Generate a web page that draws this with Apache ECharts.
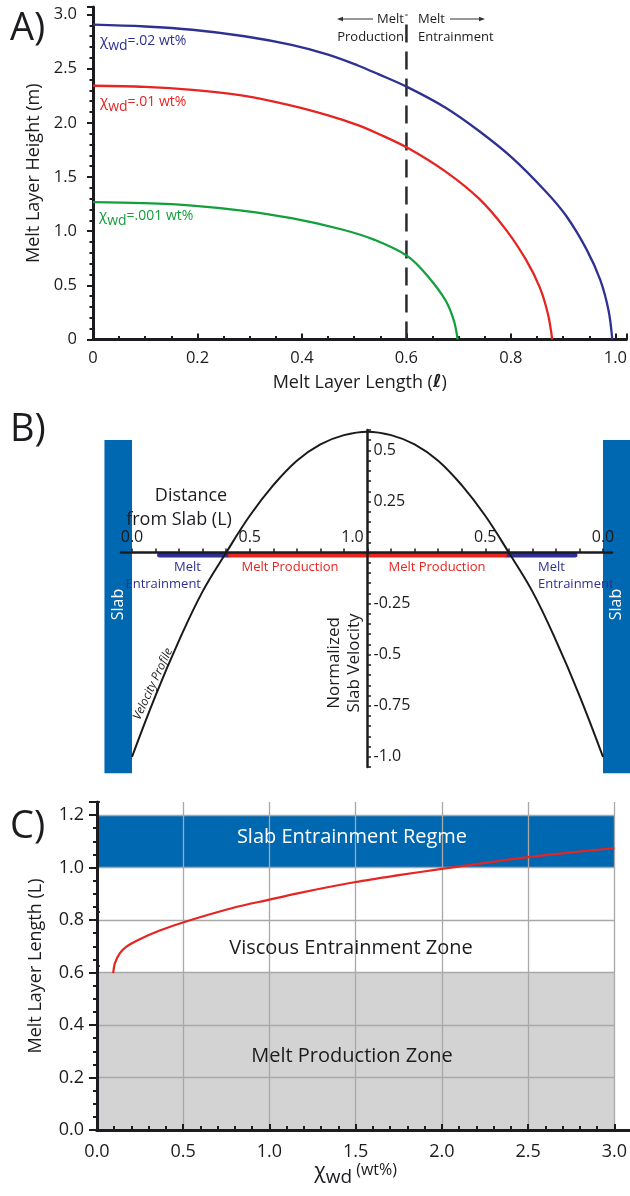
<!DOCTYPE html>
<html>
<head>
<meta charset="utf-8">
<script src="https://cdn.jsdelivr.net/npm/echarts@6/dist/echarts.min.js"></script>
<style>html,body{margin:0;padding:0;background:#fff}#c{width:630px;height:1196px}</style>
</head>
<body>
<div id="c"></div>
<script>
// ---------------- Panel A data ----------------
const aBlueX = [0, 0.1, 0.19, 0.29, 0.38, 0.45, 0.507, 0.546, 0.602, 0.675, 0.739, 0.803, 0.868, 0.906, 0.945, 0.971, 0.987, 0.994];
const aBlueY = [2.907, 2.89, 2.86, 2.80, 2.72, 2.63, 2.53, 2.45, 2.33, 2.14, 1.925, 1.675, 1.36, 1.14, 0.83, 0.55, 0.265, 0];
const aRedX = [0, 0.1, 0.19, 0.29, 0.38, 0.45, 0.507, 0.546, 0.602, 0.675, 0.739, 0.79, 0.829, 0.855, 0.871, 0.879];
const aRedY = [2.343, 2.333, 2.305, 2.25, 2.16, 2.07, 1.98, 1.90, 1.77, 1.55, 1.30, 1.017, 0.735, 0.484, 0.234, 0];
const aGreenX = [0, 0.095, 0.19, 0.285, 0.38, 0.475, 0.539, 0.602, 0.642, 0.675, 0.691, 0.698];
const aGreenY = [1.268, 1.259, 1.237, 1.19, 1.12, 1.018, 0.92, 0.77, 0.578, 0.36, 0.171, 0];
const aDivideX = [0.6, 0.6];
const aDivideY = [0, 3.0];

// ---------------- Panel B data ----------------
// x: position between slabs (-1 = left slab, 0 = centre, 1 = right slab); distance from slab = 1 - |x|
const bPosX = [-1, -0.9, -0.8, -0.7, -0.6, -0.5, -0.4, -0.3, -0.2, -0.1, 0, 0.1, 0.2, 0.3, 0.4, 0.5, 0.6, 0.7, 0.8, 0.9, 1];
const bVel  = [-1.0, -0.70, -0.43, -0.19, 0.0, 0.18, 0.33, 0.45, 0.53, 0.575, 0.592, 0.575, 0.53, 0.45, 0.33, 0.18, 0.0, -0.19, -0.43, -0.70, -1.0];
const bEntrainLeft = [-0.883, -0.592];
const bProduction = [-0.592, 0.592];
const bEntrainRight = [0.592, 0.881];
const bBarLevel = -0.012;
const bSlabLeft = [-1.117, -1.0, 0.551, -1.08];
const bSlabRight = [1.0, 1.117, 0.551, -1.08];

// ---------------- Panel C data ----------------
const cChiX = [0.094, 0.104, 0.133, 0.171, 0.248, 0.364, 0.498, 0.786, 1.0, 1.17, 1.5, 1.75, 2.0, 2.25, 2.5, 2.75, 3.0];
const cLenY = [0.598, 0.636, 0.674, 0.699, 0.727, 0.76, 0.791, 0.846, 0.878, 0.903, 0.945, 0.971, 0.995, 1.018, 1.04, 1.058, 1.074];
const cSlabZone = [0, 3.0, 1.2, 1.0];
const cProdZone = [0, 3.0, 0.6, 0];

const FONT = '"Open Sans", "Noto Sans", sans-serif';
const INK = '#1c1c20';
const NAVY = '#2e3192';
const RED = '#e52521';
const GREEN = '#12a03c';
const SLAB = '#0067b1';

const zip = (xs, ys) => xs.map((x, i) => [x, ys[i]]);
const isMult = (v, step) => Math.abs(v / step - Math.round(v / step)) < 1e-6;

const chart = echarts.init(document.getElementById('c'), null, {renderer: 'canvas'});

function T(text, x, y, o) {
  o = o || {};
  return {
    type: 'text', x: x, y: y, rotation: o.rotation || 0, z: 100,
    style: {
      text: text, fill: o.fill || INK, fontSize: o.size || 14, fontFamily: FONT,
      fontStyle: o.italic ? 'italic' : 'normal',
      align: o.align || 'center', verticalAlign: 'middle', rich: o.rich
    }
  };
}
function chiRich(color) {
  return {
    c: {fontSize: 15, fill: color, fontFamily: FONT, verticalAlign: 'bottom', padding: [0, 0, 5, 0]},
    s: {fontSize: 14, fill: color, fontFamily: FONT, verticalAlign: 'bottom', padding: [0, 0, 0, 0]},
    t: {fontSize: 14, fill: color, fontFamily: FONT, verticalAlign: 'bottom', padding: [0, 0, 5, 0]}
  };
}

const axisLineStyle = {color: INK, width: 3};
const labelBase = {color: INK, fontFamily: FONT};
const hiddenX = (g, min, max) => ({gridIndex: g, type: 'value', min: min, max: max, show: false});
const hiddenY = (g, min, max) => ({gridIndex: g, type: 'value', min: min, max: max, show: false});

// B geometry: slabs at x=-1/1, centre at 0; velocity 0 level
const B_LEFT = 132, B_WIDTH = 471, B_TOP = 430, B_HEIGHT = 337;
const B_YMIN = -1.05, B_YMAX = 0.6;
const B_ZERO_Y = B_TOP + B_HEIGHT * B_YMAX / (B_YMAX - B_YMIN);
const B_CENTER_X = B_LEFT + B_WIDTH / 2;

const option = {
  animation: false,
  backgroundColor: '#fff',
  grid: [
    {left: 93, top: 7, width: 537, height: 332.5},                                   // 0 A
    {left: B_LEFT, top: B_TOP, width: B_WIDTH, height: B_HEIGHT},                    // 1 B data
    {left: B_LEFT, top: B_TOP, width: B_WIDTH, height: B_ZERO_Y - B_TOP},            // 2 B horizontal ticks
    {left: B_LEFT - 11, top: B_TOP, width: B_WIDTH + 20, height: B_ZERO_Y - B_TOP},  // 3 B horizontal axis line
    {left: B_CENTER_X, top: B_TOP, width: B_WIDTH / 2, height: B_HEIGHT},            // 4 B vertical axis
    {left: 97, top: 802, width: 520, height: 328},                                   // 5 C
    {left: 97, top: 802, width: 533, height: 328}                                    // 6 C x-axis line extension
  ],
  xAxis: [
    { // A
      gridIndex: 0, type: 'value', min: 0, max: 1.021, interval: 0.2,
      axisLine: {lineStyle: axisLineStyle},
      axisTick: {inside: true, length: 6, lineStyle: {color: INK, width: 2}},
      minorTick: {show: true, splitNumber: 4, length: 3.5, lineStyle: {color: INK, width: 2}},
      splitLine: {show: false},
      axisLabel: Object.assign({fontSize: 16.5, margin: 10,
        formatter: v => isMult(v, 0.2) ? (v === 0 ? '0' : v.toFixed(1)) : ''}, labelBase),
      name: '{n|Melt Layer Length (}{l|ℓ}{n|)}', nameLocation: 'middle', nameGap: 34,
      nameTextStyle: {rich: {n: {fontSize: 18, fontFamily: FONT, color: INK}, l: {fontSize: 18, fontFamily: 'DejaVu Sans', fontWeight: 'bold', fontStyle: 'italic', color: INK}}}
    },
    hiddenX(1, -1, 1),
    { // B ticks / labels (distance from slab)
      gridIndex: 2, type: 'value', min: -1, max: 1, interval: 0.1, z: 6,
      axisLine: {show: false},
      axisTick: {inside: true, length: 4, lineStyle: {color: INK, width: 1.5}},
      splitLine: {show: false},
      axisLabel: Object.assign({inside: true, fontSize: 16, margin: 7,
        formatter: v => {
          if (!isMult(v, 0.5)) return '';
          const d = (1 - Math.abs(v)).toFixed(1);
          return Math.abs(v) < 1e-9 ? '{m|' + d + '}' : d;
        },
        rich: {m: {fontSize: 16, fontFamily: FONT, color: INK, padding: [0, 30, 0, 0]}}}, labelBase)
    },
    { // B axis line
      gridIndex: 3, type: 'value', min: 0, max: 1, z: 6,
      axisLine: {show: true, lineStyle: {color: INK, width: 2.5}},
      axisTick: {show: false}, axisLabel: {show: false}, splitLine: {show: false}
    },
    hiddenX(4, 0, 1),
    { // C
      gridIndex: 5, type: 'value', min: 0, max: 3.0, interval: 0.5, z: 3,
      axisLine: {lineStyle: axisLineStyle},
      axisTick: {inside: true, length: 6, lineStyle: {color: INK, width: 2}},
      minorTick: {show: true, splitNumber: 5, length: 4, lineStyle: {color: INK, width: 2}},
      splitLine: {show: true, showMinLine: false, lineStyle: {color: '#a8a8a8', width: 1.3}},
      axisLabel: Object.assign({fontSize: 18, margin: 13, formatter: v => v.toFixed(1)}, labelBase),
      name: '{c|χ}{s|wd}{t| (wt%)}', nameLocation: 'middle', nameGap: 32,
      nameTextStyle: {rich: {
        c: {fontSize: 21, fontFamily: FONT, color: INK, verticalAlign: 'bottom', padding: [0, 0, 4, 0]},
        s: {fontSize: 19, fontFamily: FONT, color: INK, verticalAlign: 'bottom'},
        t: {fontSize: 16, fontFamily: FONT, color: INK, verticalAlign: 'bottom', padding: [0, 0, 9, 0]}
      }}
    },
    { // C top dots
      gridIndex: 5, type: 'value', position: 'top', min: 0, max: 3.0, interval: 0.5,
      axisLine: {show: false},
      axisTick: {show: true, length: 2, lineStyle: {color: NAVY, width: 3}},
      axisLabel: {show: false}, splitLine: {show: false}
    },
    { // C axis line extension
      gridIndex: 6, type: 'value', min: 0, max: 1,
      axisLine: {lineStyle: axisLineStyle},
      axisTick: {show: false}, axisLabel: {show: false}, splitLine: {show: false}
    }
  ],
  yAxis: [
    { // A
      gridIndex: 0, type: 'value', min: 0, max: 3.07, interval: 0.5,
      axisLine: {show: true, lineStyle: axisLineStyle},
      axisTick: {show: true, inside: false, length: 6, lineStyle: {color: INK, width: 2}},
      minorTick: {show: true, splitNumber: 5, length: 3.5, lineStyle: {color: INK, width: 2}},
      splitLine: {show: false},
      axisLabel: Object.assign({fontSize: 16.5, margin: 16,
        formatter: v => isMult(v, 0.5) ? (v === 0 ? '0' : v.toFixed(1)) : ''}, labelBase),
      name: 'Melt Layer Height (m)', nameLocation: 'middle', nameGap: 50,
      nameTextStyle: {fontSize: 18, fontFamily: FONT, color: INK}
    },
    hiddenY(1, B_YMIN, B_YMAX),
    hiddenY(2, 0, B_YMAX),
    hiddenY(3, 0, 1),
    { // B vertical axis
      gridIndex: 4, type: 'value', min: B_YMIN, max: B_YMAX, interval: 0.05, z: 6,
      axisLine: {show: true, lineStyle: {color: INK, width: 2.5}},
      axisTick: {show: true, inside: true, length: 3.5, lineStyle: {color: INK, width: 1.5}},
      splitLine: {show: false},
      axisLabel: Object.assign({inside: true, fontSize: 16, margin: 6,
        formatter: v => {
          if (!isMult(v, 0.25) || Math.abs(v) < 1e-9) return '';
          return isMult(v, 0.5) ? v.toFixed(1) : v.toFixed(2);
        }}, labelBase)
    },
    { // C
      gridIndex: 5, type: 'value', min: 0, max: 1.25, interval: 0.2, z: 3,
      axisLine: {show: true, lineStyle: axisLineStyle},
      axisTick: {show: true, inside: false, length: 8, lineStyle: {color: INK, width: 2}},
      minorTick: {show: true, splitNumber: 4, length: 4, lineStyle: {color: INK, width: 2}},
      splitLine: {show: true, showMinLine: false, showMaxLine: false, lineStyle: {color: '#a8a8a8', width: 1.3}},
      axisLabel: Object.assign({fontSize: 18, margin: 13,
        formatter: v => isMult(v, 0.2) ? v.toFixed(1) : ''}, labelBase),
      name: 'Melt Layer Length (L)', nameLocation: 'middle', nameGap: 52,
      nameTextStyle: {fontSize: 18, fontFamily: FONT, color: INK}
    },
    { // C right ticks
      gridIndex: 5, type: 'value', position: 'right', offset: 9, min: 0, max: 1.2, interval: 0.2,
      axisLine: {show: false},
      axisTick: {show: true, length: 3, lineStyle: {color: NAVY, width: 2}},
      axisLabel: {show: false}, splitLine: {show: false}
    },
    hiddenY(6, 0, 1)
  ],
  series: [
    // ---- A ----
    {type: 'line', xAxisIndex: 0, yAxisIndex: 0, data: zip(aBlueX, aBlueY), showSymbol: false, smooth: 0.35,
      lineStyle: {color: NAVY, width: 2.3}, z: 4},
    {type: 'line', xAxisIndex: 0, yAxisIndex: 0, data: zip(aRedX, aRedY), showSymbol: false, smooth: 0.35,
      lineStyle: {color: RED, width: 2.3}, z: 4},
    {type: 'line', xAxisIndex: 0, yAxisIndex: 0, data: zip(aGreenX, aGreenY), showSymbol: false, smooth: 0.35,
      lineStyle: {color: GREEN, width: 2.3}, z: 4},
    {type: 'line', xAxisIndex: 0, yAxisIndex: 0, data: zip(aDivideX, aDivideY), showSymbol: false,
      lineStyle: {color: '#2a2a2e', width: 2.5, type: [18, 9]}, z: 3},
    // ---- B ----
    {type: 'custom', xAxisIndex: 1, yAxisIndex: 1, clip: false, z: 1,
      data: [bSlabLeft, bSlabRight],
      encode: {x: [0, 1], y: [2, 3]},
      renderItem: (params, api) => {
        const p0 = api.coord([api.value(0), api.value(2)]);
        const p1 = api.coord([api.value(1), api.value(3)]);
        return {type: 'group', children: [
          {type: 'rect', shape: {x: p0[0], y: p0[1], width: p1[0] - p0[0], height: p1[1] - p0[1]}, style: {fill: SLAB}},
          {type: 'text', x: (p0[0] + p1[0]) / 2, y: (p0[1] + p1[1]) / 2 - 2, rotation: Math.PI / 2,
            style: {text: 'Slab', fill: '#fff', fontSize: 16, fontFamily: FONT, align: 'center', verticalAlign: 'middle'}}
        ]};
      }},
    {type: 'line', xAxisIndex: 1, yAxisIndex: 1, data: bEntrainLeft.map(x => [x, bBarLevel]), showSymbol: false,
      lineStyle: {color: NAVY, width: 5, cap: 'round'}, z: 3},
    {type: 'line', xAxisIndex: 1, yAxisIndex: 1, data: bEntrainRight.map(x => [x, bBarLevel]), showSymbol: false,
      lineStyle: {color: NAVY, width: 5, cap: 'round'}, z: 3},
    {type: 'line', xAxisIndex: 1, yAxisIndex: 1, data: bProduction.map(x => [x, bBarLevel]), showSymbol: false,
      lineStyle: {color: RED, width: 5, cap: 'butt'}, z: 3},
    {type: 'line', xAxisIndex: 1, yAxisIndex: 1, data: zip(bPosX, bVel), showSymbol: false, smooth: 0.4, clip: false,
      lineStyle: {color: '#1a1a1a', width: 2}, z: 7},
    // ---- C ----
    {type: 'custom', xAxisIndex: 5, yAxisIndex: 5, z: 1,
      data: [cSlabZone, cProdZone],
      encode: {x: [0, 1], y: [2, 3]},
      renderItem: (params, api) => {
        const p0 = api.coord([api.value(0), api.value(2)]);
        const p1 = api.coord([api.value(1), api.value(3)]);
        return {type: 'rect', shape: {x: p0[0], y: p0[1], width: p1[0] - p0[0], height: p1[1] - p0[1]},
          style: {fill: params.dataIndex === 0 ? SLAB : '#d3d3d3'}};
      }},
    {type: 'line', xAxisIndex: 5, yAxisIndex: 5, data: zip(cChiX, cLenY), showSymbol: false, smooth: 0.3,
      lineStyle: {color: RED, width: 2.2}, z: 6}
  ],
  graphic: [
    // panel letters
    T('A)', 10, 29, {size: 38, align: 'left'}),
    T('B)', 10, 430, {size: 38, align: 'left'}),
    T('C)', 10, 827, {size: 38, align: 'left'}),
    // A: regime labels
    T('Melt', 404, 19, {size: 13, align: 'right'}),
    T('Production', 404, 37, {size: 13, align: 'right'}),
    T('Melt', 418, 19, {size: 13, align: 'left'}),
    T('Entrainment', 418, 37, {size: 13, align: 'left'}),
    {type: 'line', z: 100, shape: {x1: 339, y1: 19, x2: 373, y2: 19}, style: {stroke: '#333', lineWidth: 1.2}},
    {type: 'polygon', z: 100, shape: {points: [[337, 19], [343, 16.8], [343, 21.2]]}, style: {fill: '#333'}},
    {type: 'line', z: 100, shape: {x1: 450, y1: 19, x2: 483, y2: 19}, style: {stroke: '#333', lineWidth: 1.2}},
    {type: 'polygon', z: 100, shape: {points: [[485, 19], [479, 16.8], [479, 21.2]]}, style: {fill: '#333'}},
    // A: curve labels
    T('{c|χ}{s|wd}{t|=.02 wt%}', 100, 43, {align: 'left', rich: chiRich(NAVY)}),
    T('{c|χ}{s|wd}{t|=.01 wt%}', 100, 104, {align: 'left', rich: chiRich(RED)}),
    T('{c|χ}{s|wd}{t|=.001 wt%}', 99, 218, {align: 'left', rich: chiRich(GREEN)}),
    // B labels
    T('Distance', 191, 496, {size: 18}),
    T('from Slab (L)', 179, 520, {size: 18}),
    T('Melt', 201, 567, {size: 13, align: 'right', fill: NAVY}),
    T('Entrainment', 201, 584, {size: 13, align: 'right', fill: NAVY}),
    T('Melt Production', 290, 567, {size: 13, fill: RED}),
    T('Melt Production', 437, 567, {size: 13, fill: RED}),
    T('Melt', 538, 567, {size: 13, align: 'left', fill: NAVY}),
    T('Entrainment', 538, 584, {size: 13, align: 'left', fill: NAVY}),
    T('Normalized', 334, 663, {size: 17, rotation: Math.PI / 2}),
    T('Slab Velocity', 354, 663, {size: 17, rotation: Math.PI / 2}),
    T('Velocity Profile', 153, 684, {size: 12, italic: true, rotation: 1.136}),
    // C zone labels
    T('Slab Entrainment Regme', 352, 837, {size: 20, fill: '#ffffff'}),
    T('Viscous Entrainment Zone', 351, 948, {size: 20}),
    T('Melt Production Zone', 352, 1056, {size: 20})
  ]
};
chart.setOption(option);
</script>
</body>
</html>
